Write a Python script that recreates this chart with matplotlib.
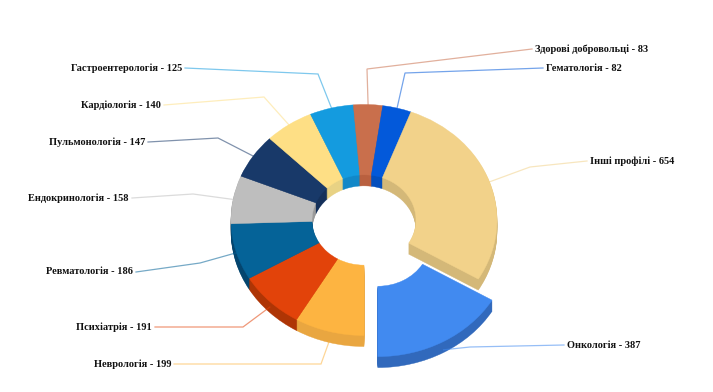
import numpy as np
import matplotlib
matplotlib.use('Agg')
import matplotlib.pyplot as plt

plt.rcParams['font.family'] = ['Liberation Serif', 'DejaVu Serif']

# going clockwise from straight down
names = ['Неврологія', 'Психіатрія', 'Ревматологія', 'Ендокринологія', 'Пульмонологія',
         'Кардіологія', 'Гастроентерологія', 'Здорові добровольці', 'Гематологія',
         'Інші профілі', 'Онкологія']
values = [199, 191, 186, 158, 147, 140, 125, 83, 82, 654, 387]
explode = [0, 0, 0, 0, 0, 0, 0, 0, 0, 0, 0.21]

top_colors = ['#FDB441', '#E2430A', '#056398', '#BEBEBE', '#183969', '#FEDF85',
              '#149BDF', '#C96F4C', '#0359DA', '#F2D28A', '#418AF0']
side_colors = ['#E9A640', '#AE3505', '#04456E', '#9A9A9A', '#14305A', '#E8D284',
               '#1288C8', '#B9603F', '#044FBE', '#D4B878', '#3169BC']

# pixel layout of the ring
cx, cy = 364, 220
rx, ry = 133, 115.5
hole = 52
depth = 11

# label edge / centre line and the leader elbow, in pixels
label_xy = [(171, 364), (152, 327), (133, 272), (129, 198), (145, 142),
            (161, 105), (182, 68), (535, 49), (546, 68), (590, 161), (567, 345)]
elbow_xy = [(321, 364), (243, 327), (200, 263), (193, 194), (218, 138),
            (264, 97), (318, 74), (367, 69), (405, 73), (530, 167), (470, 347)]
side_left = [False, False, False, False, False, False, False, True, True, True, True]


def draw_ring(colors, d):
    wedges, _ = ax.pie(values, colors=colors, startangle=270, counterclock=False, explode=explode,
                       center=(0, -d / ry), radius=1, wedgeprops=dict(width=1 - hole / rx, lw=0.3))
    for w in wedges:
        w.set_edgecolor(w.get_facecolor())


fig = plt.figure(figsize=(7.13, 3.92), dpi=100)
ax = fig.add_axes([0, 0, 1, 1])

for d in range(depth, 0, -1):
    draw_ring(side_colors, d)
draw_ring(top_colors, 0)

ax.set_aspect('auto')
ax.set_xlim(-cx / rx, (713 - cx) / rx)
ax.set_ylim((cy - 392) / ry, cy / ry)
ax.axis('off')

# leaders and labels go on top in pixel coordinates
ov = fig.add_axes([0, 0, 1, 1])
ov.set_xlim(0, 713)
ov.set_ylim(392, 0)
ov.axis('off')
ov.patch.set_alpha(0)

fracs = np.array(values) / sum(values)
ends = 180 + np.cumsum(fracs) * 360
mids = ends - fracs * 180
for i, name in enumerate(names):
    a = np.radians(mids[i])
    r = 1 + explode[i]
    ax_x = cx + rx * np.sin(a) * r
    ax_y = cy - ry * np.cos(a) * r
    # lower half: leader starts from the bottom of the side wall
    if np.cos(a) < 0:
        ax_y += depth * np.cos(a) ** 2
    lx, ly = label_xy[i]
    end_x = lx - 3 if side_left[i] else lx + 3
    ov.plot([ax_x, elbow_xy[i][0], end_x], [ax_y, elbow_xy[i][1], ly],
            color=top_colors[i], lw=0.9, alpha=0.55, solid_joinstyle='miter')
    ov.text(lx, ly, f'{name} - {values[i]}', fontsize=7.5, fontweight='bold', color='#111111',
            ha='left' if side_left[i] else 'right', va='center')

fig.savefig('out.png', dpi=100, facecolor='white')
